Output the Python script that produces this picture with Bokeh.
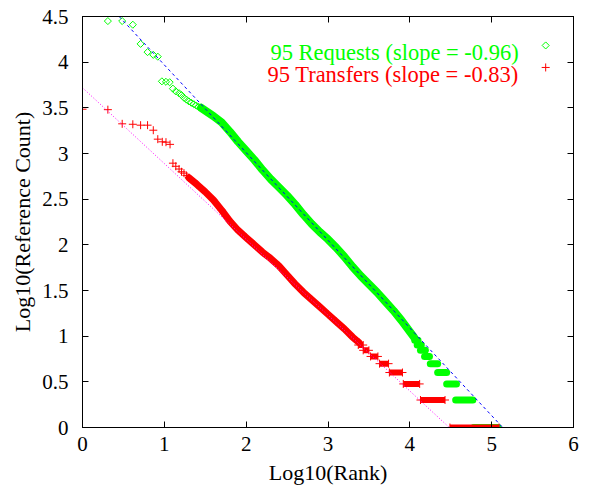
import math
from bokeh.plotting import figure
from bokeh.models import Range1d, FixedTicker, LinearAxis, CustomJSTickFormatter
from bokeh.core.properties import value
from bokeh.embed import file_html
from bokeh.resources import INLINE

# ---------------- data (log10 rank, log10 count) ----------------
# 95 Requests: sparse top points
req_top_x = [0.31, 0.485, 0.615, 0.71, 0.795, 0.865, 0.92, 0.97, 1.02, 1.065, 1.105,
             1.14, 1.18, 1.21, 1.24, 1.27, 1.30, 1.33, 1.36, 1.39, 1.42, 1.45]
req_top_y = [4.45, 4.45, 4.41, 4.20, 4.11, 4.08, 4.06, 3.79, 3.785, 3.78, 3.71,
             3.68, 3.66, 3.64, 3.61, 3.59, 3.57, 3.555, 3.54, 3.525, 3.51, 3.50]
# 95 Requests: dense part
req_band_x = [1.45, 1.5, 1.6, 1.7, 1.8, 1.9, 2.0, 2.1, 2.2, 2.3, 2.4, 2.5, 2.6, 2.7,
              2.8, 2.9, 3.0, 3.1, 3.2, 3.3, 3.4, 3.5, 3.6, 3.7, 3.8, 3.9, 4.0, 4.05]
req_band_y = [3.50, 3.47, 3.41, 3.34, 3.24, 3.13, 3.03, 2.93, 2.82, 2.72, 2.63, 2.54,
              2.44, 2.33, 2.23, 2.14, 2.06, 1.97, 1.87, 1.76, 1.66, 1.57, 1.48, 1.38,
              1.28, 1.17, 1.05, 0.99]
# 95 Requests: runs of equal counts
req_step_y = [0.954, 0.903, 0.845, 0.778, 0.699, 0.602, 0.477, 0.301, 0.0]
req_step_x0 = [4.06, 4.09, 4.13, 4.18, 4.25, 4.34, 4.45, 4.56, 4.78]
req_step_x1 = [4.10, 4.14, 4.19, 4.24, 4.34, 4.45, 4.57, 4.77, 5.08]

# 95 Transfers: sparse top points
trf_top_x = [0.0, 0.31, 0.485, 0.615, 0.71, 0.795, 0.865, 0.92, 0.975, 1.02, 1.07,
             1.105, 1.14, 1.18, 1.21, 1.24, 1.27, 1.30]
trf_top_y = [3.485, 3.48, 3.325, 3.32, 3.31, 3.31, 3.255, 3.157, 3.128, 3.124, 3.10,
             2.894, 2.86, 2.83, 2.80, 2.785, 2.76, 2.735]
# 95 Transfers: dense part
trf_band_x = [1.30, 1.4, 1.5, 1.6, 1.7, 1.8, 1.9, 2.0, 2.1, 2.2, 2.3, 2.4, 2.5, 2.6,
              2.7, 2.8, 2.9, 3.0, 3.1, 3.2, 3.3, 3.38]
trf_band_y = [2.735, 2.66, 2.58, 2.49, 2.38, 2.26, 2.16, 2.08, 2.00, 1.92, 1.85, 1.77,
              1.67, 1.57, 1.48, 1.40, 1.32, 1.24, 1.16, 1.08, 0.99, 0.93]
# 95 Transfers: runs of equal counts
trf_step_y = [0.903, 0.845, 0.778, 0.699, 0.602, 0.477, 0.301, 0.0]
trf_step_x0 = [3.37, 3.43, 3.52, 3.63, 3.75, 3.92, 4.13, 4.49]
trf_step_x1 = [3.43, 3.50, 3.61, 3.74, 3.91, 4.12, 4.43, 5.09]

# fitted lines
req_slope, req_intercept = -0.96, 4.93
trf_slope, trf_intercept = -0.83, 3.72

req_label = "95 Requests (slope = -0.96)"
trf_label = "95 Transfers (slope = -0.83)"

x_ticks = [0, 1, 2, 3, 4, 5, 6]
y_ticks = [0, 0.5, 1, 1.5, 2, 2.5, 3, 3.5, 4, 4.5]

GREEN = "#00ff00"
RED = "#ff0000"
BLUE = "#0000ff"
MAGENTA = "#ff00ff"
FONT = "Liberation Serif"
FS_TICK = "21px"
FS_LABEL = "22px"
FS_KEY = "22.5px"

X0, X1, Y0, Y1 = 0, 6, 0, 4.5

p = figure(frame_width=491, frame_height=411, x_range=Range1d(X0, X1), y_range=Range1d(Y0, Y1),
           output_backend="svg", toolbar_location=None,
           min_border_left=82, min_border_right=31, min_border_top=16, min_border_bottom=67,
           background_fill_color="white", border_fill_color="white")
p.xgrid.visible = False
p.ygrid.visible = False
p.outline_line_color = "black"
p.outline_line_width = 1

fmt = CustomJSTickFormatter(code="return tick.toString();")
blank = CustomJSTickFormatter(code="return '';")

for ax, ticks in ((p.xaxis[0], x_ticks), (p.yaxis[0], y_ticks)):
    ax.ticker = FixedTicker(ticks=ticks)
    ax.formatter = fmt
    ax.major_tick_in = 6
    ax.major_tick_out = 0
    ax.minor_tick_line_color = None
    ax.axis_line_color = "black"
    ax.major_tick_line_color = "black"
    ax.major_label_text_font = FONT
    ax.major_label_text_font_size = FS_TICK
    ax.major_label_text_color = "black"
    ax.axis_label_text_font = FONT
    ax.axis_label_text_font_size = FS_LABEL
    ax.axis_label_text_font_style = "normal"
    ax.axis_label_text_color = "black"

p.xaxis.axis_label = "Log10(Rank)"
p.yaxis.axis_label = "Log10(Reference Count)"
p.xaxis.major_label_standoff = 9
p.xaxis.axis_label_standoff = 6
p.yaxis.major_label_standoff = 14
p.yaxis.axis_label_standoff = 4

for side, ticks in (("above", x_ticks), ("right", y_ticks)):
    ax = LinearAxis(ticker=FixedTicker(ticks=ticks), formatter=blank,
                    major_tick_in=6, major_tick_out=0, minor_tick_line_color=None,
                    axis_line_color="black", major_tick_line_color="black",
                    major_label_text_font_size="1px")
    p.add_layout(ax, side)

# ---- Requests (green) ----
p.line(req_band_x, req_band_y, line_color=GREEN, line_width=8, line_join="round", line_cap="round")
p.segment(x0=req_step_x0, x1=req_step_x1, y0=req_step_y, y1=req_step_y,
          line_color=GREEN, line_width=7, line_cap="round")
p.scatter(req_top_x + req_band_x, req_top_y + req_band_y, marker="square", angle=math.pi / 4,
          size=5, fill_color=None, line_color=GREEN, line_width=1)

# ---- Transfers (red) ----
p.line(trf_band_x, trf_band_y, line_color=RED, line_width=7, line_join="round", line_cap="round")
p.segment(x0=trf_step_x0, x1=trf_step_x1, y0=trf_step_y, y1=trf_step_y,
          line_color=RED, line_width=6, line_cap="butt")
p.scatter(trf_step_x0 + trf_step_x1, trf_step_y + trf_step_y, marker="cross", size=8,
          line_color=RED, line_width=1)
p.scatter(trf_top_x + trf_band_x, trf_top_y + trf_band_y, marker="cross", size=8,
          line_color=RED, line_width=1)

# ---- fitted lines ----
rx0 = (Y1 - req_intercept) / req_slope
rx1 = (Y0 - req_intercept) / req_slope
p.line([rx0, rx1], [req_slope * rx0 + req_intercept, req_slope * rx1 + req_intercept],
       line_color=BLUE, line_width=1, line_dash="3 3")
tx0 = X0
tx1 = (Y0 - trf_intercept) / trf_slope
p.line([tx0, tx1], [trf_slope * tx0 + trf_intercept, trf_slope * tx1 + trf_intercept],
       line_color=MAGENTA, line_width=1, line_dash="1 2")

# ---- key (gnuplot style: text then symbol) ----
key_text_x = 5.33
key_sym_x = 5.66
key_y = [4.106, 3.865]
p.text(x=[key_text_x, key_text_x], y=key_y, text=[req_label, trf_label],
       text_color=[GREEN, RED], text_font=value(FONT), text_font_size=FS_KEY,
       text_align="right", text_baseline="alphabetic")
p.scatter([key_sym_x], [key_y[0] + 0.077], marker="square", angle=math.pi / 4, size=5,
          fill_color=None, line_color=GREEN, line_width=1)
p.scatter([key_sym_x], [key_y[1] + 0.077], marker="cross", size=8, line_color=RED, line_width=1)

open("out.html", "w").write(file_html(p, INLINE))
